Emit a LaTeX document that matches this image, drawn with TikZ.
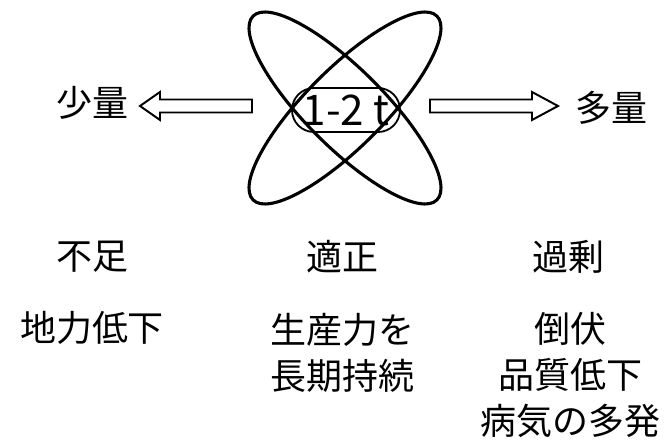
\documentclass[tikz,border=0pt]{standalone}
\usepackage{fontspec}
\setmainfont{Noto Sans CJK JP}
\usetikzlibrary{shapes.misc}

\tikzset{
    orbit/.style={line width=2.2pt},
    jptext/.style={font=\fontsize{25.6}{33}\selectfont, align=center, inner sep=0pt},
    hollowarrow/.style={draw, line width=1.4pt, line join=miter}
}

\begin{document}
\begin{tikzpicture}[x=0.025cm, y=-0.025cm]

    \useasboundingbox (0, 0) rectangle (671, 445);

    % Crossed ellipses
    \coordinate (core) at (345, 108);
    \draw[orbit, rotate around={45:(core)}] (core) ellipse [x radius=130, y radius=39];
    \draw[orbit, rotate around={-45:(core)}] (core) ellipse [x radius=130, y radius=39];

    % Amount in the middle
    \node[draw, line width=1.3pt, rounded rectangle, minimum width=2.7cm, minimum height=1.1cm,
        inner sep=0pt, font=\fontsize{30}{30}\selectfont] (amount) at (346, 110) {1-2 t};

    % Both directions
    \node[jptext] (few) at (92, 103) {少量};
    \node[jptext] (many) at (611, 108) {多量};
    \coordinate (lesstip) at (140, 106);
    \coordinate (moretip) at (558, 106);
    \draw[hollowarrow] (lesstip) -- ++(20, -14) -- ++(0, 7.5) -- ++(92, 0) -- ++(0, 13)
        -- ++(-92, 0) -- ++(0, 7.5) -- cycle;
    \draw[hollowarrow] (moretip) -- ++(-26, -14) -- ++(0, 7.5) -- ++(-102, 0) -- ++(0, 13)
        -- ++(102, 0) -- ++(0, 7.5) -- cycle;

    % Headings
    \node[jptext] (lack) at (92, 257) {不足};
    \node[jptext] (proper) at (342, 257) {適正};
    \node[jptext] (excess) at (568, 257) {過剰};

    % Effects
    \node[jptext] (lackfx) at (92, 328) {地力低下};
    \node[jptext] (properfx) at (342, 353) {生産力を\\長期持続};
    \node[jptext] (excessfx) at (570, 375) {倒伏\\品質低下\\病気の多発};

\end{tikzpicture}
\end{document}
